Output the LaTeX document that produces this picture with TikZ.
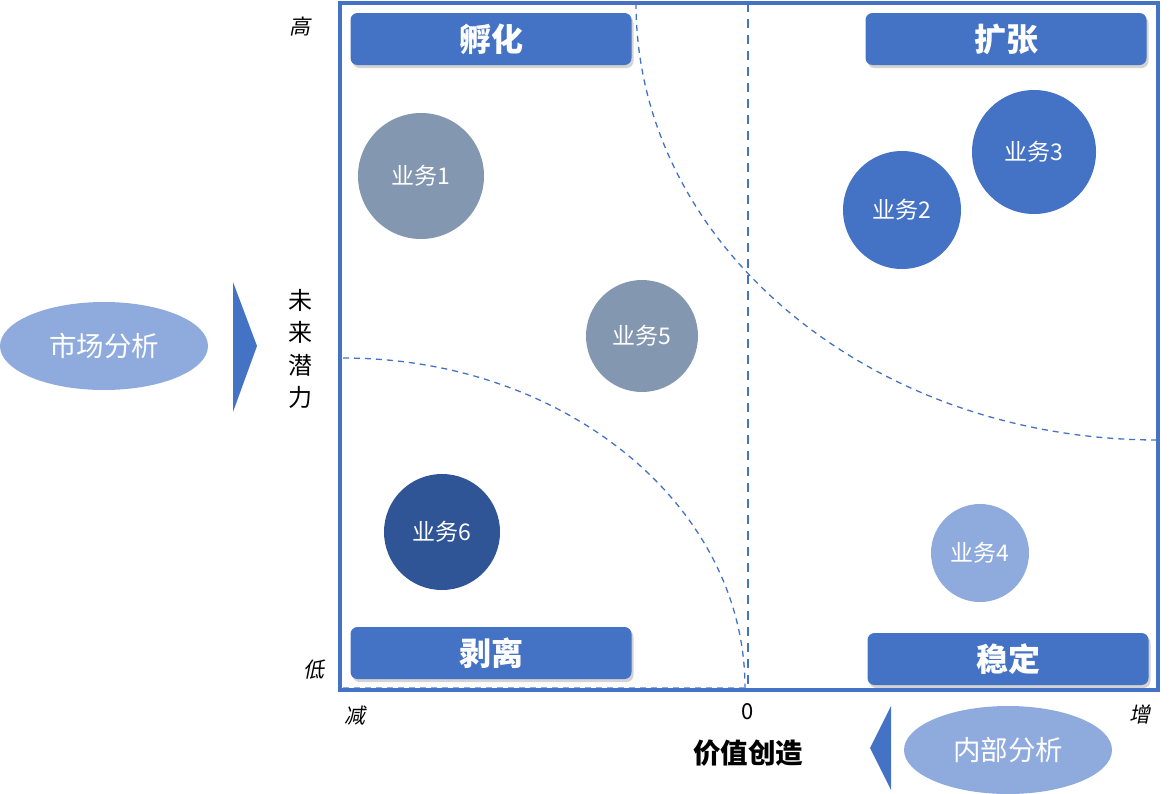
\documentclass[tikz,border=0pt]{standalone}
\usepackage{fontspec}
\setmainfont{Noto Sans CJK SC}
\newfontfamily\slantfont[FakeSlant=0.2]{Noto Sans CJK SC}
\usetikzlibrary{positioning,shadows,shapes.geometric}
\definecolor{bizblue}{HTML}{4472C4}
\definecolor{bizgray}{HTML}{8497B0}
\definecolor{bizdark}{HTML}{2F5597}
\definecolor{bizlight}{HTML}{8FAADC}

\begin{document}
\begin{tikzpicture}[x=1pt, y=1pt,
		quad/.style={rectangle, rounded corners=7pt, fill=bizblue, text=white, minimum width=281pt, minimum height=52pt,
			font=\fontsize{32}{32}\selectfont\bfseries, drop shadow={shadow xshift=2pt, shadow yshift=-3pt, opacity=0.35}},
		biz/.style={circle, text=white, inner sep=0pt, font=\fontsize{23}{23}\selectfont},
		analysis/.style={ellipse, fill=bizlight, text=white, inner sep=0pt, minimum width=208pt, minimum height=88pt,
			font=\fontsize{27.5}{27.5}\selectfont},
		axis/.style={inner sep=0pt, font=\fontsize{21}{21}\slantfont},
		split/.style={draw=bizblue, line width=1.3pt, dash pattern=on 6pt off 5pt}
	]
	\useasboundingbox (0,0) rectangle (1170,-793);
	
	% dividing curves
	\draw[split] (636,-3) arc[start angle=180, end angle=270, x radius=522, y radius=437];
	\draw[split] (343,-358) arc[start angle=90, end angle=0, x radius=402, y radius=330];
	\draw[bizlight, line width=1.3pt, dash pattern=on 6pt off 5pt] (745,-688) -- (343,-688);
	\draw[bizblue, line width=2.6pt, dash pattern=on 9pt off 7pt] (748,-3) -- (748,-690);
	
	% frame
	\draw[bizblue, line width=3.5pt] (340,-3) rectangle (1158,-690);
	
	% quadrants
	\node[quad] (incubate) at (491,-39) {孵化};
	\node[quad] (expand) at (1006,-39) {扩张};
	\node[quad] (divest) at (491,-653) {剥离};
	\node[quad] (stable) at (1008,-659) {稳定};
	
	% businesses
	\node[biz, fill=bizgray, minimum size=126pt] (biz1) at (421,-176) {业务1};
	\node[biz, fill=bizblue, minimum size=118pt] (biz2) at (902,-210) {业务2};
	\node[biz, fill=bizblue, minimum size=124pt] (biz3) at (1034,-152) {业务3};
	\node[biz, fill=bizlight, minimum size=98pt] (biz4) at (980,-553) {业务4};
	\node[biz, fill=bizgray, minimum size=112pt] (biz5) at (642,-336) {业务5};
	\node[biz, fill=bizdark, minimum size=116pt] (biz6) at (442,-532) {业务6};
	
	% axes
	\node[inner sep=0pt, align=center, font=\fontsize{24}{32.5}\selectfont] (potential) at (300,-349) {未\\来\\潜\\力};
	\node[axis] (high) at (300,-26) {高};
	\node[axis] (low) at (314,-670) {低};
	\node[axis] (less) at (355,-716) {减};
	\node[axis] (more) at (1140,-714) {增};
	\node[inner sep=0pt, font=\fontsize{22}{22}\selectfont] (zero) at (748,-712) {0};
	\node[inner sep=0pt, below=19pt of zero, font=\fontsize{27.5}{27.5}\selectfont\bfseries] (value) {价值创造};
	
	% analysis
	\node[analysis] (market) at (104,-346) {市场分析};
	\node[analysis] (internal) at (1008,-750) {内部分析};
	\fill[bizblue] (233,-282) -- (257,-346) -- (233,-412) -- cycle;
	\fill[bizblue] (891,-706) -- (870,-748) -- (891,-790) -- cycle;
\end{tikzpicture}
\end{document}
